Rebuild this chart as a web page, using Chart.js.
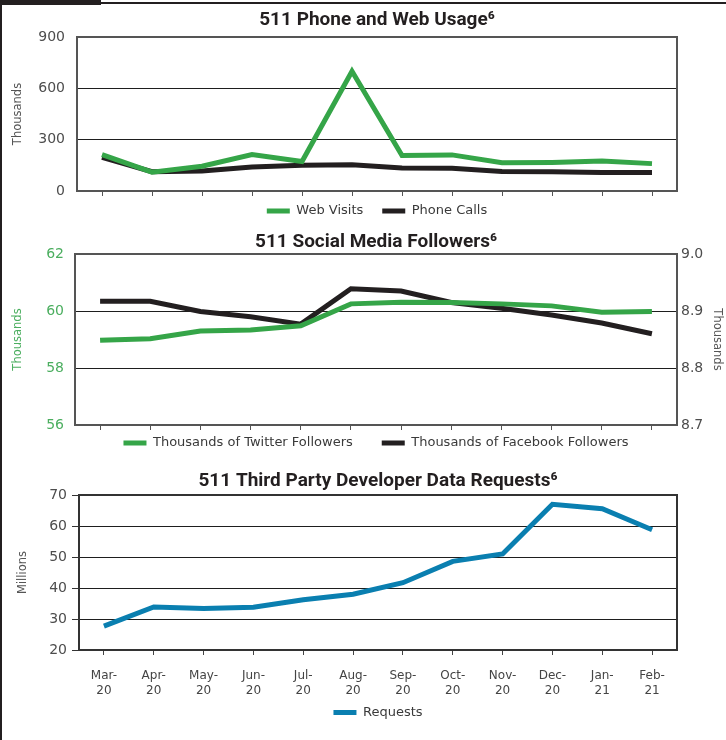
<!DOCTYPE html>
<html><head><meta charset="utf-8">
<script src="https://cdn.jsdelivr.net/npm/chart.js@4.4.1/dist/chart.umd.min.js"></script>
<style>
html,body{margin:0;padding:0;background:#fff;}
#page{position:relative;width:726px;height:740px;overflow:hidden;background:#fff;}
canvas{position:absolute;left:0;}
.deco{position:absolute;background:#231f20;}
</style></head><body>
<div id="page">
<div class="deco" style="left:0;top:0;width:101px;height:5px"></div>
<div class="deco" style="left:101px;top:2px;width:625px;height:2px"></div>
<div class="deco" style="left:0;top:0;width:2px;height:740px"></div>
<canvas id="c1" width="726" height="233" style="top:0"></canvas>
<canvas id="c2" width="726" height="249" style="top:228px"></canvas>
<canvas id="c3" width="726" height="274" style="top:455px"></canvas>
</div>
<script>
// ---- data ----
const categories = [['Mar-','20'],['Apr-','20'],['May-','20'],['Jun-','20'],['Jul-','20'],['Aug-','20'],['Sep-','20'],['Oct-','20'],['Nov-','20'],['Dec-','20'],['Jan-','21'],['Feb-','21']];
const webVisits  = [212, 110, 145, 213, 172, 700, 208, 211, 165, 167, 175, 160];
const phoneCalls = [196, 113, 117, 140, 150, 153, 135, 133, 114, 112, 108, 108];
const twitterFollowers  = [58.97, 59.03, 59.30, 59.33, 59.48, 60.25, 60.31, 60.30, 60.25, 60.18, 59.96, 59.98];
const facebookFollowers = [8.917, 8.917, 8.899, 8.890, 8.877, 8.939, 8.935, 8.915, 8.905, 8.893, 8.879, 8.860];
const dataRequests = [27.7, 33.9, 33.4, 33.8, 36.2, 38.0, 41.7, 48.6, 51.0, 67.0, 65.6, 58.8];

// ---- styles ----
const GREEN = '#35a548', BLACK = '#231f20', BLUE = '#0a7fb0';
Chart.defaults.font.family = "'DejaVu Sans', sans-serif";
const titleFont = {family: "Roboto, 'DejaVu Sans Condensed', sans-serif", size: 19, weight: 'bold', lineHeight: 1};

const framePlugin = {
  id: 'frame',
  beforeDatasetsDraw(chart, args, opts) {
    const {ctx, chartArea: a} = chart;
    ctx.save();
    ctx.strokeStyle = opts.color || '#444';
    ctx.lineWidth = opts.width || 2;
    ctx.strokeRect(a.left, a.top, a.right - a.left, a.bottom - a.top);
    ctx.restore();
  }
};
const innerGrid = c => (c.index === 0 || c.index === c.scale.ticks.length - 1) ? 'rgba(0,0,0,0)' : '#1e1e1e';
const legendLabels = (pad) => ({
  boxWidth: 23, boxHeight: 5, padding: pad, color: '#3a3a3a', font: {size: 13},
  generateLabels: c => Chart.defaults.plugins.legend.labels.generateLabels(c).map(l => Object.assign(l, {lineWidth: 0}))
});
const lineDs = (label, data, color, axis) => ({
  label, data, borderColor: color, backgroundColor: color, borderWidth: 5,
  pointRadius: 0, pointHoverRadius: 0, tension: 0, borderJoinStyle: 'miter', borderCapStyle: 'butt',
  yAxisID: axis || 'y'
});
const hiddenX = (h) => ({
  offset: true,
  grid: {offset: false, drawOnChartArea: false, drawTicks: true, tickLength: 5, tickColor: '#555', lineWidth: 1},
  border: {display: false},
  ticks: {display: false},
  afterFit: s => { s.height = h; }
});
const axisTitleFont = {size: 11.5};

// ---- chart 1 ----
new Chart(document.getElementById('c1'), {
  type: 'line',
  data: {labels: categories, datasets: [lineDs('Web Visits', webVisits, GREEN), lineDs('Phone Calls', phoneCalls, BLACK)]},
  plugins: [framePlugin],
  options: {
    responsive: false, animation: false, events: [],
    layout: {padding: {left: 0, right: 49, top: 0, bottom: 0}},
    scales: {
      x: hiddenX(-5.5),
      y: {min: 0, max: 900,
          ticks: {stepSize: 300, color: '#4d4d4d', font: {size: 14}, padding: 12},
          grid: {color: innerGrid, drawTicks: false, lineWidth: 1},
          border: {display: false},
          title: {display: true, text: 'Thousands', color: '#555', font: axisTitleFont, padding: {top: 11}},
          afterFit: s => { s.width = 77; }}
    },
    plugins: {
      frame: {color: '#555', width: 2},
      title: {display: true, text: '511 Phone and Web Usage⁶', fullSize: false, color: BLACK, font: titleFont, padding: {top: 11, bottom: 7}},
      legend: {position: 'bottom', fullSize: false, labels: legendLabels(19)},
      tooltip: {enabled: false}
    }
  }
});

// ---- chart 2 ----
new Chart(document.getElementById('c2'), {
  type: 'line',
  data: {labels: categories, datasets: [
    lineDs('Thousands of Twitter Followers', twitterFollowers, GREEN, 'y'),
    lineDs('Thousands of Facebook Followers', facebookFollowers, BLACK, 'y1')]},
  plugins: [framePlugin],
  options: {
    responsive: false, animation: false, events: [],
    layout: {padding: 0},
    scales: {
      x: hiddenX(-17.5),
      y: {position: 'left', min: 56, max: 62,
          ticks: {stepSize: 2, color: '#4bae5f', font: {size: 14}, padding: 11},
          grid: {color: innerGrid, drawTicks: false, lineWidth: 1},
          border: {display: false},
          title: {display: true, text: 'Thousands', color: '#4bae5f', font: axisTitleFont, padding: {top: 11}},
          afterFit: s => { s.width = 75; }},
      y1: {position: 'right', min: 8.7, max: 9.0,
          ticks: {stepSize: 0.1, color: '#4d4d4d', font: {size: 14}, padding: 4, callback: v => Number(v).toFixed(1)},
          grid: {drawOnChartArea: false, drawTicks: false},
          border: {display: false},
          title: {display: true, text: 'Thousands', color: '#555', font: axisTitleFont, padding: {top: 2}},
          afterFit: s => { s.width = 49; }}
    },
    plugins: {
      frame: {color: '#555', width: 2},
      title: {display: true, text: '511 Social Media Followers⁶', fullSize: false, color: BLACK, font: titleFont, padding: {top: 5, bottom: 2}},
      legend: {position: 'bottom', fullSize: false, labels: legendLabels(29)},
      tooltip: {enabled: false}
    }
  }
});

// ---- chart 3 ----
new Chart(document.getElementById('c3'), {
  type: 'line',
  data: {labels: categories, datasets: [lineDs('Requests', dataRequests, BLUE)]},
  plugins: [framePlugin],
  options: {
    responsive: false, animation: false, events: [],
    layout: {padding: {left: 0, right: 49, top: 0, bottom: 0}},
    scales: {
      x: {offset: true,
          grid: {offset: false, drawOnChartArea: false, drawTicks: true, tickLength: 5, tickColor: '#444', lineWidth: 1},
          border: {display: false},
          ticks: {color: '#444', font: {size: 12, lineHeight: 1.25}, padding: 13, maxRotation: 0, minRotation: 0, autoSkip: false},
          afterFit: s => { s.height = 48; }},
      y: {min: 20, max: 70,
          ticks: {stepSize: 10, color: '#4d4d4d', font: {size: 14}, padding: 5},
          grid: {color: innerGrid, drawTicks: true, tickLength: 7, tickColor: '#333', lineWidth: 1},
          border: {display: false},
          title: {display: true, text: 'Millions', color: '#555', font: axisTitleFont, padding: {top: 16}},
          afterFit: s => { s.width = 79; }}
    },
    plugins: {
      frame: {color: '#333', width: 2},
      title: {display: true, text: '511 Third Party Developer Data Requests⁶', fullSize: false, color: BLACK, font: titleFont, padding: {top: 16.5, bottom: 4.5}},
      legend: {position: 'bottom', fullSize: false, labels: legendLabels(8)},
      tooltip: {enabled: false}
    }
  }
});
</script>
</body></html>
